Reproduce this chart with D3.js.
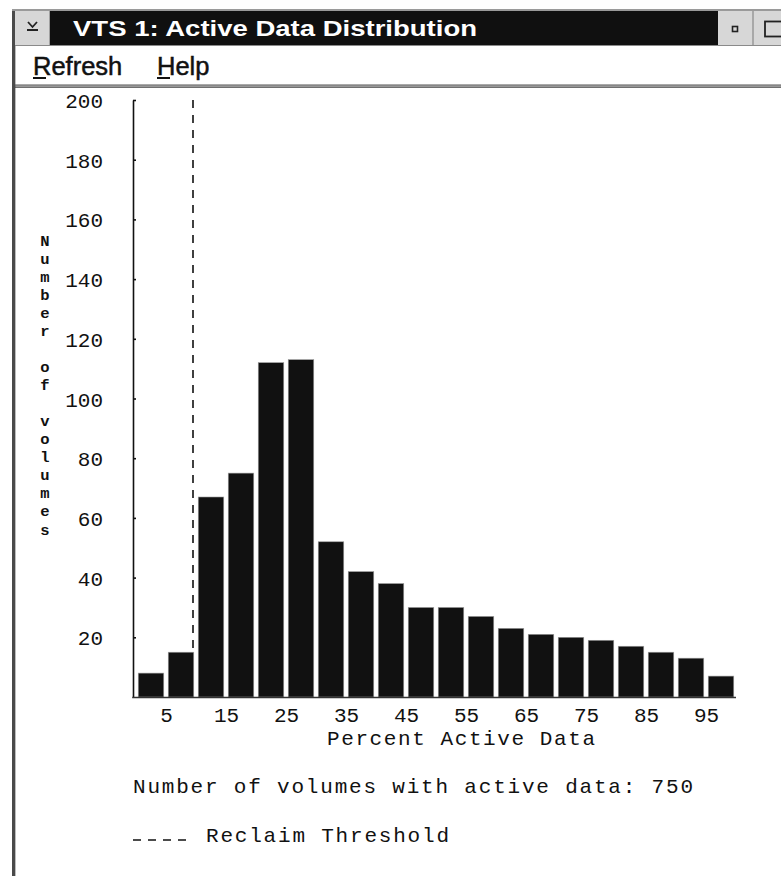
<!DOCTYPE html>
<html>
<head>
<meta charset="utf-8">
<script src="https://cdn.jsdelivr.net/npm/d3@7"></script>
<style>
  html, body { margin: 0; padding: 0; background: #ffffff; }
  svg { display: block; }
</style>
</head>
<body>
<div id="chart"></div>
<script>
// ---- data ----
const windowTitle = "VTS 1: Active Data Distribution";
const menuItems = ["Refresh", "Help"];
const binStarts = [0, 5, 10, 15, 20, 25, 30, 35, 40, 45, 50, 55, 60, 65, 70, 75, 80, 85, 90, 95];
const counts = [8, 15, 67, 75, 112, 113, 52, 42, 38, 30, 30, 27, 23, 21, 20, 19, 17, 15, 13, 7];
const xTickValues = [5, 15, 25, 35, 45, 55, 65, 75, 85, 95];
const yTickValues = [20, 40, 60, 80, 100, 120, 140, 160, 180, 200];
const reclaimThreshold = 9.5;
const totalVolumes = 750;
const xTitle = "Percent Active Data";
const yTitle = "Number of volumes";
const summaryText = "Number of volumes with active data: " + totalVolumes;
const legendText = "Reclaim Threshold";

// ---- layout ----
const W = 781, H = 876;
const mono = "'Liberation Mono', 'DejaVu Sans Mono', monospace";
const sans = "'Liberation Sans', Arial, sans-serif";
const ink = "#111111";

const svg = d3.select("#chart").append("svg")
  .attr("width", W).attr("height", H)
  .style("background", "#ffffff");

// ---- window chrome ----
const chrome = svg.append("g");
chrome.append("rect").attr("x", 12).attr("y", 9).attr("width", 3).attr("height", H - 9).attr("fill", "#4a4a4a");
chrome.append("rect").attr("x", 15).attr("y", 9).attr("width", 1).attr("height", H - 9).attr("fill", "#bdbdbd");
chrome.append("rect").attr("x", 12).attr("y", 9).attr("width", W - 12).attr("height", 2).attr("fill", "#9a9a9a");
chrome.append("rect").attr("x", 15).attr("y", 11).attr("width", 703).attr("height", 35).attr("fill", "#101010");
chrome.append("rect").attr("x", 15).attr("y", 11).attr("width", 35).attr("height", 35).attr("fill", "#d7d7d7");
chrome.append("rect").attr("x", 49).attr("y", 11).attr("width", 1).attr("height", 35).attr("fill", "#a0a0a0");
chrome.append("path").attr("d", "M28,22 L32.5,27 L37,22").attr("fill", "none").attr("stroke", "#222").attr("stroke-width", 1.8);
chrome.append("rect").attr("x", 27).attr("y", 29).attr("width", 11).attr("height", 2).attr("fill", "#222");
chrome.append("rect").attr("x", 718).attr("y", 11).attr("width", 35).attr("height", 35).attr("fill", "#d7d7d7");
chrome.append("rect").attr("x", 752).attr("y", 11).attr("width", 2).attr("height", 35).attr("fill", "#a8a8a8");
chrome.append("rect").attr("x", 754).attr("y", 11).attr("width", 27).attr("height", 35).attr("fill", "#d7d7d7");
chrome.append("rect").attr("x", 732.5).attr("y", 26.5).attr("width", 5).attr("height", 5).attr("fill", "none").attr("stroke", "#222").attr("stroke-width", 1.6);
chrome.append("rect").attr("x", 765).attr("y", 21.5).attr("width", 17).attr("height", 15).attr("fill", "none").attr("stroke", "#222").attr("stroke-width", 1.8);
chrome.append("rect").attr("x", 15).attr("y", 45).attr("width", W - 15).attr("height", 1).attr("fill", "#8a8a8a");
chrome.append("text")
  .attr("x", 73).attr("y", 35.5)
  .attr("font-family", sans).attr("font-size", 22).attr("font-weight", "bold")
  .attr("fill", "#ffffff")
  .attr("textLength", 404).attr("lengthAdjust", "spacingAndGlyphs")
  .text(windowTitle);
const menuX = [33, 157];
menuItems.forEach((m, i) => {
  chrome.append("text")
    .attr("x", menuX[i]).attr("y", 74.5)
    .attr("font-family", sans).attr("font-size", 25.5)
    .attr("fill", ink).attr("stroke", ink).attr("stroke-width", 0.5)
    .text(m);
  chrome.append("rect").attr("x", menuX[i]).attr("y", 77).attr("width", 13).attr("height", 2).attr("fill", ink);
});
chrome.append("rect").attr("x", 15).attr("y", 84.5).attr("width", W - 15).attr("height", 1.2).attr("fill", "#555");
chrome.append("rect").attr("x", 15).attr("y", 86.5).attr("width", W - 15).attr("height", 1.2).attr("fill", "#333");

// ---- scales ----
const x = d3.scaleLinear().domain([0, 100]).range([136, 736]);
const xb = d3.scaleBand().domain(binStarts).range([136, 736]).paddingInner(0.15).paddingOuter(0.075);
const y = d3.scaleLinear().domain([0, 200]).range([697, 100]);
const yAxisX = 133;

const plot = svg.append("g");

// bars
plot.selectAll("rect.bar").data(binStarts).join("rect")
  .attr("class", "bar")
  .attr("x", d => xb(d))
  .attr("width", xb.bandwidth())
  .attr("y", (d, i) => y(counts[i]))
  .attr("height", (d, i) => y(0) - y(counts[i]))
  .attr("fill", ink)
  .attr("stroke", "#9a9a9a").attr("stroke-width", 0.6);

// reclaim threshold line
const thrIdx = binStarts.findIndex(b => b + 5 > reclaimThreshold);
plot.append("line")
  .attr("x1", x(reclaimThreshold)).attr("x2", x(reclaimThreshold))
  .attr("y1", y(200)).attr("y2", y(counts[thrIdx]))
  .attr("stroke", ink).attr("stroke-width", 1.6)
  .attr("stroke-dasharray", "8,7");

// y axis
const yAxis = d3.axisLeft(y).tickValues(yTickValues).tickSize(-3).tickSizeOuter(0).tickPadding(30);
const gy = plot.append("g").attr("transform", `translate(${yAxisX},0)`).call(yAxis);
gy.select(".domain").attr("stroke", ink).attr("stroke-width", 1.6);
gy.selectAll(".tick line").attr("stroke", ink).attr("stroke-width", 1.6);
gy.selectAll(".tick text")
  .attr("font-family", mono).attr("font-size", 21).attr("fill", ink)
  .attr("dy", "0.36em");

// x axis
plot.append("line")
  .attr("x1", yAxisX - 0.8).attr("x2", x(100))
  .attr("y1", y(0) + 0.5).attr("y2", y(0) + 0.5)
  .attr("stroke", "#333").attr("stroke-width", 1.4);
const xAxis = d3.axisBottom(x).tickValues(xTickValues).tickSize(0).tickPadding(10).tickFormat(d3.format("d"));
const gx = plot.append("g").attr("transform", `translate(0,${y(0)})`).call(xAxis);
gx.select(".domain").remove();
gx.selectAll(".tick text").attr("font-family", mono).attr("font-size", 21).attr("fill", ink);

// axis titles
plot.append("text")
  .attr("x", 327).attr("y", 745)
  .attr("font-family", mono).attr("font-size", 21).attr("fill", ink)
  .attr("textLength", 268).attr("lengthAdjust", "spacing")
  .text(xTitle);

const yChars = yTitle.split("");
plot.append("g").selectAll("text").data(yChars).join("text")
  .attr("x", 45)
  .attr("y", (d, i) => 240 + i * 18.06)
  .attr("dy", "0.36em")
  .attr("text-anchor", "middle")
  .attr("font-family", mono).attr("font-size", 15.5).attr("font-weight", "bold").attr("fill", ink)
  .text(d => d);

// summary + legend
plot.append("text")
  .attr("x", 133).attr("y", 793)
  .attr("font-family", mono).attr("font-size", 21).attr("fill", ink)
  .attr("textLength", 560).attr("lengthAdjust", "spacing")
  .text(summaryText);

plot.append("line")
  .attr("x1", 133).attr("x2", 188).attr("y1", 840).attr("y2", 840)
  .attr("stroke", ink).attr("stroke-width", 1.6).attr("stroke-dasharray", "8,7");
plot.append("text")
  .attr("x", 206).attr("y", 842)
  .attr("font-family", mono).attr("font-size", 21).attr("fill", ink)
  .attr("textLength", 243).attr("lengthAdjust", "spacing")
  .text(legendText);
</script>
</body>
</html>
